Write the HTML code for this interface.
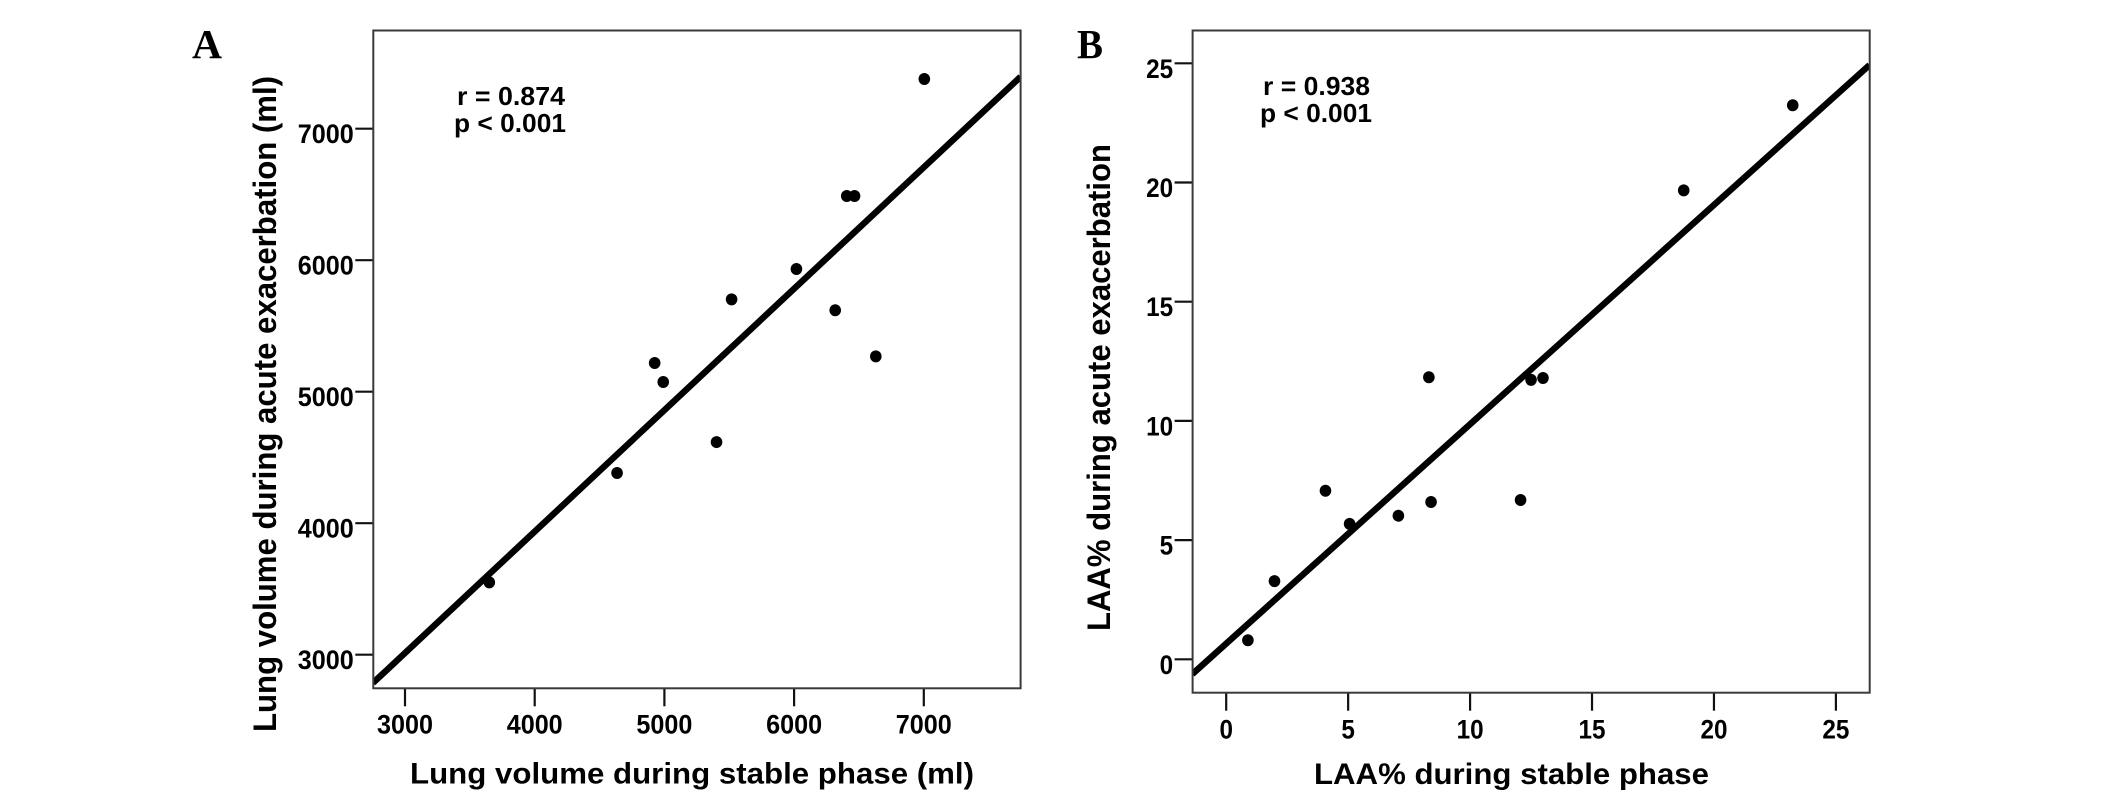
<!DOCTYPE html>
<html lang="en">
<head>
<meta charset="utf-8">
<title>Lung volume and LAA% correlation charts</title>
<style>
html,body{margin:0;padding:0;background:#fff;}
svg{display:block;}
text{font-family:"Liberation Sans",sans-serif;font-weight:bold;fill:#000;}
.panel{font-family:"Liberation Serif",serif;font-size:41px;}
</style>
</head>
<body>
<svg id="figure" xmlns="http://www.w3.org/2000/svg" width="2126" height="800" viewBox="0 0 2126 800">
  <rect width="2126" height="800" fill="#fff"></rect>
  <defs>
    <clipPath id="clip-a"><rect x="373" y="30" width="648" height="658"></rect></clipPath>
    <clipPath id="clip-b"><rect x="1192.5" y="30" width="677.5" height="663"></rect></clipPath>
  </defs>

  <text class="panel" x="192" y="58" textLength="30" lengthAdjust="spacingAndGlyphs">A</text>
  <text class="panel" x="1077" y="58" textLength="26" lengthAdjust="spacingAndGlyphs">B</text>

  <g id="chart-a"></g>
  <g id="chart-b"></g>

  <text x="457" y="105" font-size="26" textLength="108" lengthAdjust="spacingAndGlyphs">r = 0.874</text>
  <text x="454" y="132" font-size="26" textLength="112" lengthAdjust="spacingAndGlyphs">p &lt; 0.001</text>
  <text x="1263" y="95" font-size="26" textLength="107" lengthAdjust="spacingAndGlyphs">r = 0.938</text>
  <text x="1260" y="122" font-size="26" textLength="112" lengthAdjust="spacingAndGlyphs">p &lt; 0.001</text>

  <text x="410" y="783.5" font-size="29.5" textLength="564" lengthAdjust="spacingAndGlyphs">Lung volume during stable phase (ml)</text>
  <text transform="translate(276,732) rotate(-90)" font-size="32" textLength="656" lengthAdjust="spacingAndGlyphs">Lung volume during acute exacerbation (ml)</text>
  <text x="1314" y="784" font-size="29.5" textLength="395" lengthAdjust="spacingAndGlyphs">LAA% during stable phase</text>
  <text transform="translate(1110,631) rotate(-90)" font-size="32" textLength="487" lengthAdjust="spacingAndGlyphs">LAA% during acute exacerbation</text>
</svg>

<script>
// Chart A: lung volume (ml)
const xTicksA = [3000, 4000, 5000, 6000, 7000];
const yTicksA = [3000, 4000, 5000, 6000, 7000];
const stableVolume = [7004, 6406, 6466, 6018, 5518, 6317, 6630, 4925, 4991, 5402, 4635, 3650];
const exacerbationVolume = [7378, 6488, 6488, 5933, 5702, 5619, 5269, 5218, 5074, 4617, 4382, 3550];
const fitStableVolume = [2753, 7746];
const fitExacerbationVolume = [2785, 7395];

// Chart B: LAA%
const xTicksB = [0, 5, 10, 15, 20, 25];
const yTicksB = [0, 5, 10, 15, 20, 25];
const stableLaa = [23.23, 18.76, 8.31, 12.5, 12.99, 4.07, 8.4, 12.07, 7.06, 5.06, 1.98, 0.89];
const exacerbationLaa = [23.24, 19.67, 11.83, 11.72, 11.8, 7.07, 6.6, 6.68, 6.02, 5.68, 3.28, 0.8];
const fitStableLaa = [-1.39, 26.38];
const fitExacerbationLaa = [-0.62, 24.93];

const NS = 'http://www.w3.org/2000/svg';

function make(parent, tag, attrs) {
  const el = document.createElementNS(NS, tag);
  for (const k in attrs) el.setAttribute(k, attrs[k]);
  parent.appendChild(el);
  return el;
}

function linear(v0, p0, v1, p1) {
  return function (v) { return p0 + (v - v0) * (p1 - p0) / (v1 - v0); };
}

function drawChart(cfg) {
  const g = document.getElementById(cfg.id);
  const f = cfg.frame;

  cfg.xTicks.forEach(function (t) {
    const tick = make(g, 'line', { x1: cfg.xScale(t), x2: cfg.xScale(t), y1: f.bottom, y2: f.bottom + 18, stroke: '#111', 'stroke-width': 2.2 });
    
    
    const label = make(g, 'text', { x: cfg.xScale(t), y: cfg.xLabelY, 'text-anchor': 'middle', 'font-size': 26.5 });
    
    
    label.textContent = String(t);
    label.setAttribute('textLength', String(t).length * cfg.digitW);
    label.setAttribute('lengthAdjust', 'spacingAndGlyphs');
  });

  cfg.yTicks.forEach(function (t) {
    const tick = make(g, 'line', { x1: f.left - 18, x2: f.left, y1: cfg.yScale(t), y2: cfg.yScale(t), stroke: '#111', 'stroke-width': 2.2 });
    
    
    const label = make(g, 'text', { x: f.left - 19.5, y: cfg.yScale(t) + 14.5, 'text-anchor': 'end', 'font-size': 26.5 });
    
    
    label.textContent = String(t);
    label.setAttribute('textLength', String(t).length * cfg.digitW);
    label.setAttribute('lengthAdjust', 'spacingAndGlyphs');
  });

  const fit = make(g, 'line', {
    x1: cfg.xScale(cfg.fitX[0]), y1: cfg.yScale(cfg.fitY[0]),
    x2: cfg.xScale(cfg.fitX[1]), y2: cfg.yScale(cfg.fitY[1]),
    stroke: '#000', 'stroke-width': 6.4, 'clip-path': 'url(#' + cfg.clip + ')'
  });
  
  

  cfg.xs.forEach(function (v, i) {
    const dot = make(g, 'ellipse', { cx: cfg.xScale(v), cy: cfg.yScale(cfg.ys[i]), rx: 5.8, ry: 6, fill: '#000' });
    
    
  });

  const box = make(g, 'rect', { x: f.left, y: f.top, width: f.right - f.left, height: f.bottom - f.top, fill: 'none', stroke: '#3a3a3a', 'stroke-width': 2 });
  
  
}

drawChart({
  id: 'chart-a',
  clip: 'clip-a',
  frame: { left: 373.3, right: 1020.6, top: 30.5, bottom: 688.3 },
  xScale: linear(3000, 405, 7000, 923.8),
  yScale: linear(3000, 654.7, 7000, 128.7),
  xTicks: xTicksA,
  yTicks: yTicksA,
  xs: stableVolume,
  ys: exacerbationVolume,
  fitX: fitStableVolume,
  fitY: fitExacerbationVolume,
  xLabelY: 733.5,
  digitW: 14
});

drawChart({
  id: 'chart-b',
  clip: 'clip-b',
  frame: { left: 1192.6, right: 1869.7, top: 30.5, bottom: 692.7 },
  xScale: linear(0, 1226.2, 25, 1835.9),
  yScale: linear(0, 659.3, 25, 63.3),
  xTicks: xTicksB,
  yTicks: yTicksB,
  xs: stableLaa,
  ys: exacerbationLaa,
  fitX: fitStableLaa,
  fitY: fitExacerbationLaa,
  xLabelY: 738.3,
  digitW: 13.5
});
</script>
</body>
</html>
